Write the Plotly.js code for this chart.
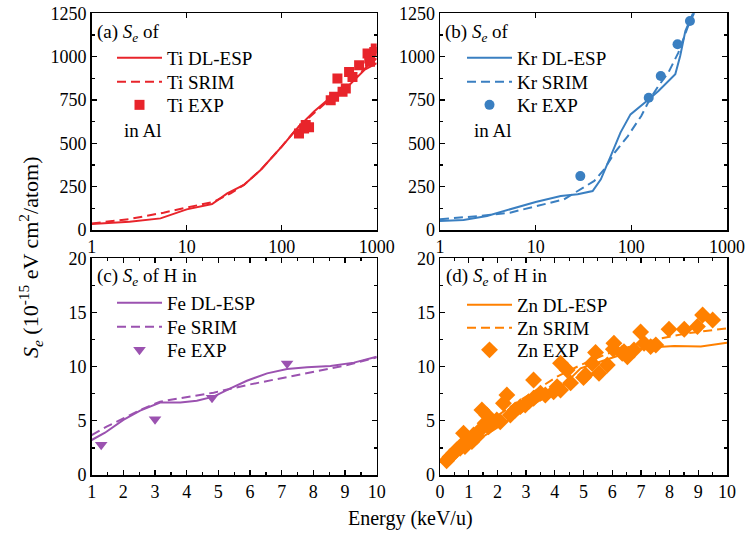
<!DOCTYPE html>
<html>
<head>
<meta charset="utf-8">
<script src="https://cdn.plot.ly/plotly-3.0.1.min.js"></script>
<style>
  html, body { margin: 0; padding: 0; background: #fff; }
  #plot { width: 747px; height: 538px; }
</style>
</head>
<body>
<div id="plot"></div>
<script>
// (a) Ti in Al
var tiDlE = [1, 2.5, 5.3, 10, 18.5, 26.7, 40, 60, 100, 146, 219, 303, 495, 741, 1000];
var tiDlS = [35, 48, 67, 119, 150, 211, 260, 346, 481, 587, 683, 750, 827, 923, 962];
var tiSrE = [1, 2.5, 5.7, 10.1, 19.3, 29, 40, 60, 100, 146, 260, 400, 600, 850, 1000];
var tiSrS = [38, 63, 100, 131, 163, 211, 260, 346, 481, 590, 711, 800, 880, 960, 990];
var tiExE = [152, 172, 194, 179, 328, 356, 386, 437, 473, 512, 556, 653, 801, 834, 851, 942, 977];
var tiExS = [557, 586, 592, 605, 749, 768, 874, 797, 816, 912, 883, 950, 1018, 989, 970, 1027, 1047];

// (b) Kr in Al
var krDlE = [1, 1.76, 3.1, 5.4, 10, 18.3, 27.5, 39.4, 48, 61, 77, 98, 127, 156, 192, 244, 288, 324, 367, 447];
var krDlS = [52, 58, 81, 119, 162, 196, 206, 225, 292, 427, 562, 667, 715, 758, 802, 860, 898, 1004, 1148, 1258];
var krSrE = [1, 2.6, 5.4, 11.3, 19.8, 27.5, 41, 52, 67, 92, 127, 156, 192, 244, 310, 393, 459];
var krSrS = [62, 81, 100, 142, 177, 225, 283, 350, 446, 542, 658, 754, 831, 908, 1023, 1177, 1258];
var krExE = [29.3, 152, 203, 304, 410];
var krExS = [311, 763, 888, 1071, 1206];

// (c) H in Fe
var feDlE = [1, 1.42, 2.0, 2.53, 3.16, 3.8, 4.32, 4.85, 5.38, 5.9, 6.54, 7.17, 7.8, 8.54, 9.28, 10];
var feDlS = [3.23, 3.9, 5.08, 5.94, 6.68, 6.7, 6.86, 7.23, 8.0, 8.7, 9.38, 9.78, 9.94, 10.06, 10.37, 10.92];
var feSrE = [1, 1.47, 2.0, 2.53, 3.16, 3.8, 4.85, 5.9, 6.96, 8.0, 9.07, 10];
var feSrS = [3.69, 4.46, 5.23, 6.0, 6.77, 7.08, 7.6, 8.3, 8.92, 9.54, 10.15, 10.86];
var feExE = [1.3, 3.0, 4.8, 7.17];
var feExS = [2.8, 5.14, 7.14, 10.3];

// (d) H in Zn
var znDlE = [0.12, 0.93, 1.86, 2.68, 3.5, 4.2, 4.9, 5.13, 5.6, 6.18, 6.76, 7.46, 8.16, 9.09, 10];
var znDlS = [1.38, 2.6, 4.15, 5.54, 6.92, 8.0, 9.85, 10.06, 10.46, 10.98, 11.54, 11.78, 11.9, 11.85, 12.2];
var znSrE = [0.12, 0.93, 1.63, 2.45, 3.26, 4.08, 4.9, 5.83, 6.76, 7.69, 8.62, 10];
var znSrS = [1.54, 3.23, 4.77, 6.3, 7.7, 9.08, 10.15, 11.2, 11.97, 12.6, 13.08, 13.54];
var znExE = [0.23, 0.35, 0.47, 0.58, 0.7, 0.76, 0.87, 0.82, 0.93, 1.05, 1.11, 1.17, 1.28, 1.4, 1.46, 1.57, 1.63, 1.69, 1.75,
             1.98, 2.1, 2.21, 2.33, 2.45, 2.62, 2.8, 2.97, 3.09, 3.26, 3.26, 3.5, 3.67, 3.96, 4.08, 4.2, 4.2, 4.43, 4.55,
             5.0, 5.07, 5.3, 5.42, 5.54, 5.83, 6.04, 6.06, 6.35, 6.41, 6.53, 6.76, 6.99, 7.11, 7.34, 7.52, 7.98, 8.51, 8.97, 9.15, 9.5];
var znExS = [1.32, 1.69, 2.0, 2.31, 2.46, 2.77, 2.62, 3.85, 2.92, 3.23, 3.08, 3.69, 3.54, 4.15, 6.0, 4.77, 5.54, 4.46, 5.08,
             5.08, 4.92, 6.62, 7.38, 5.54, 6.0, 6.31, 6.46, 6.77, 8.77, 7.08, 7.54, 7.38, 7.69, 8.15, 7.85, 10.31, 9.69, 8.5,
             9.0, 9.23, 10.3, 11.3, 9.39, 10.15, 11.6, 12.16, 11.23, 11.38, 10.92, 11.54, 13.2, 12.15, 11.85, 12.0, 13.45, 13.45, 13.7, 14.77, 14.31];

var red = "#e8242b", blue = "#3a7fc1", purple = "#9b52b0", orange = "#ff8000";
var font = "Liberation Serif";
var dashed = "9px,5px";

function line(x, y, name, color, dash, xa, ya, leg) {
  return {x: x, y: y, name: name, type: "scatter", mode: "lines", xaxis: xa, yaxis: ya, legend: leg,
          line: {color: color, width: 2, dash: dash}};
}
function pts(x, y, name, color, symbol, size, xa, ya, leg) {
  return {x: x, y: y, name: name, type: "scatter", mode: "markers", xaxis: xa, yaxis: ya, legend: leg,
          marker: {color: color, symbol: symbol, size: size}};
}

// one legend per entry so the row spacing can follow the reference
var data = [
  line(tiDlE, tiDlS, "Ti DL-ESP", red, "solid", "x", "y", "legend"),
  line(tiSrE, tiSrS, "Ti SRIM", red, dashed, "x", "y", "legend2"),
  pts(tiExE, tiExS, "Ti EXP", red, "square", 10, "x", "y", "legend3"),
  line(krDlE, krDlS, "Kr DL-ESP", blue, "solid", "x2", "y2", "legend4"),
  line(krSrE, krSrS, "Kr SRIM", blue, dashed, "x2", "y2", "legend5"),
  pts(krExE, krExS, "Kr EXP", blue, "circle", 10, "x2", "y2", "legend6"),
  line(feDlE, feDlS, "Fe DL-ESP", purple, "solid", "x3", "y3", "legend7"),
  line(feSrE, feSrS, "Fe SRIM", purple, dashed, "x3", "y3", "legend8"),
  pts(feExE, feExS, "Fe EXP", purple, "triangle-down", 11, "x3", "y3", "legend9"),
  line(znDlE, znDlS, "Zn DL-ESP", orange, "solid", "x4", "y4", "legend10"),
  line(znSrE, znSrS, "Zn SRIM", orange, dashed, "x4", "y4", "legend11"),
  pts(znExE, znExS, "Zn EXP", orange, "diamond", 13, "x4", "y4", "legend12")
];

function ax(extra) {
  var a = {showline: true, linecolor: "#000", linewidth: 1.5, mirror: "ticks", ticks: "inside",
           ticklen: 5, tickwidth: 1.3, tickcolor: "#000", showgrid: false, zeroline: false,
           tickfont: {family: font, size: 18, color: "#000"}, automargin: false};
  for (var k in extra) a[k] = extra[k];
  return a;
}
var leftX = [91.7 / 747, 376.7 / 747], rightX = [440 / 747, 727 / 747];
var topY = [1 - 230 / 538, 1 - 13.3 / 538], botY = [1 - 475 / 538, 1 - 258.3 / 538];
var logX = {type: "log", range: [0, 3], tickvals: [1, 10, 100, 1000], ticktext: ["1", "10", "100", "1000"]};
var seY = {range: [0, 1250], dtick: 250, minor: {dtick: 125, ticks: "inside", ticklen: 3, tickcolor: "#000"}};
var smY = {range: [0, 20], dtick: 5, minor: {dtick: 2.5, ticks: "inside", ticklen: 3, tickcolor: "#000"}};

function merge(a, b) { var o = {}; for (var k in a) o[k] = a[k]; for (var j in b) o[j] = b[j]; return o; }

function leg(x, y) {
  return {x: x / 747, y: 1 - y / 538, xanchor: "left", yanchor: "middle", bgcolor: "rgba(0,0,0,0)",
          font: {family: font, size: 19, color: "#000"}, itemwidth: 45};
}

function note(text, x, y, size) {
  return {text: text, x: x / 747, y: 1 - y / 538, xref: "paper", yref: "paper", xanchor: "left",
          yanchor: "middle", showarrow: false, font: {family: font, size: size || 19, color: "#000"}};
}

var layout = {
  width: 747, height: 538, margin: {l: 0, r: 0, t: 0, b: 0},
  paper_bgcolor: "#fff", plot_bgcolor: "#fff", showlegend: true,
  font: {family: font},
  xaxis: ax(merge(logX, {domain: leftX, anchor: "y"})),
  yaxis: ax(merge(seY, {domain: topY, anchor: "x"})),
  xaxis2: ax(merge(logX, {domain: rightX, anchor: "y2"})),
  yaxis2: ax(merge(seY, {domain: topY, anchor: "x2"})),
  xaxis3: ax({domain: leftX, anchor: "y3", range: [1, 10], dtick: 1,
              minor: {dtick: 0.5, ticks: "inside", ticklen: 3, tickcolor: "#000"}}),
  yaxis3: ax(merge(smY, {domain: botY, anchor: "x3"})),
  xaxis4: ax({domain: rightX, anchor: "y4", range: [0, 10], dtick: 1,
              minor: {dtick: 0.5, ticks: "inside", ticklen: 3, tickcolor: "#000"}}),
  yaxis4: ax(merge(smY, {domain: botY, anchor: "x4"})),
  legend: leg(112, 58), legend2: leg(112, 82), legend3: leg(112, 105),
  legend4: leg(462, 58), legend5: leg(462, 82), legend6: leg(462, 105),
  legend7: leg(112, 303), legend8: leg(112, 327), legend9: leg(112, 350),
  legend10: leg(462, 305), legend11: leg(462, 328), legend12: leg(462, 350),
  annotations: [
    note("(a) <i>S<sub>e</sub></i> of", 95, 33),
    note("(b) <i>S<sub>e</sub></i> of", 443, 33),
    note("(c) <i>S<sub>e</sub></i> of H in", 95, 277),
    note("(d) <i>S<sub>e</sub></i> of H in", 444, 277),
    note("in Al", 122, 130),
    note("in Al", 472, 130),
    {text: "<i>S<sub>e</sub></i> (10<sup>-15</sup> eV cm<sup>2</sup>/atom)", x: 30 / 747, y: 1 - 258 / 538,
     xref: "paper", yref: "paper", xanchor: "center", yanchor: "middle", textangle: -90, showarrow: false,
     font: {family: font, size: 22, color: "#000"}},
    {text: "Energy (keV/u)", x: 410 / 747, y: 1 - 518 / 538, xref: "paper", yref: "paper",
     xanchor: "center", yanchor: "middle", showarrow: false, font: {family: font, size: 20, color: "#000"}}
  ]
};

Plotly.newPlot("plot", data, layout, {staticPlot: true});
</script>
</body>
</html>
